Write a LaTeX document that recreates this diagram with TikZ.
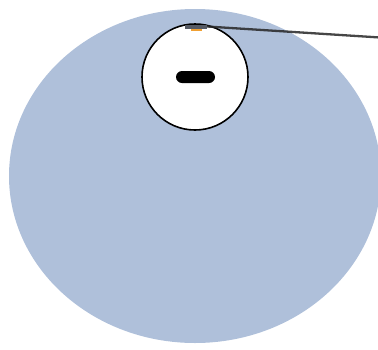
\documentclass[tikz,border=0pt]{standalone}
\definecolor{blob}{RGB}{175,192,218}
\definecolor{bargrey}{RGB}{85,90,100}
\definecolor{barorange}{RGB}{240,160,50}
\begin{document}
\begin{tikzpicture}[x=1pt,y=-1pt,
  lead/.style={draw=black!85,line width=2.3pt,opacity=0.85},
  lens/.style={draw=black,fill=white,line width=1.6pt}]
\useasboundingbox (0,0) rectangle (378,349);
\begin{scope}
\clip (0,0) rectangle (378,349);
\fill[blob] (195,176) ellipse [x radius=186, y radius=167];
\node[lens,circle,minimum size=106pt,inner sep=0pt] (lensc) at (195,77) {};
\node[fill=black,rounded corners=6pt,minimum width=39pt,minimum height=12pt,inner sep=0pt] (pill) at (195.5,77) {};
\node[fill=bargrey,minimum width=22pt,minimum height=4pt,inner sep=0pt] (bar) at (196,26.5) {};
\node[fill=barorange,minimum width=11pt,minimum height=2.5pt,inner sep=0pt] (obar) at (196,30.2) {};
\coordinate (endp) at (380,37.5);
\draw[lead] (bar.east) -- (endp);
\end{scope}
\end{tikzpicture}
\end{document}
